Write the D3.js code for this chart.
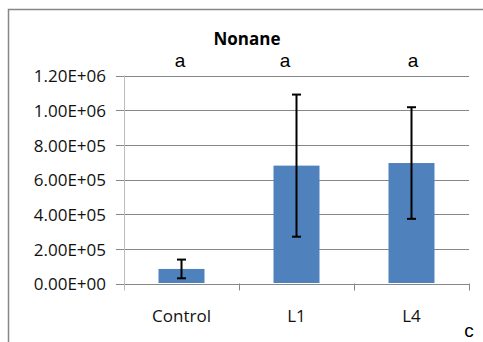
<!DOCTYPE html>
<html>
<head>
<meta charset="utf-8">
<script src="https://cdn.jsdelivr.net/npm/d3@7"></script>
<style>
  html, body { margin: 0; padding: 0; background: #fff; }
  svg { display: block; }
</style>
</head>
<body>
<svg id="chart" width="483" height="342"></svg>
<script>
// Nonane emission by line (mean ± error)
const categories = ["Control", "L1", "L4"];
const means = [84000, 680000, 695000];
const errors = [54000, 410000, 322000];
const letters = ["a", "a", "a"];
const letterX = [180, 285, 413];
const yTicks = [0, 200000, 400000, 600000, 800000, 1000000, 1200000];
const title = "Nonane";
const panelTag = "c";

const svg = d3.select("#chart");
const W = 483, H = 342;
const plot = { left: 124, right: 469, top: 75.5, bottom: 283.5 };
const labelFont = "'Open Sans', Lato, sans-serif";

const x = d3.scaleBand()
  .domain(categories)
  .range([plot.left, plot.right])
  .paddingInner(0.6)
  .paddingOuter(0.3);

const y = d3.scaleLinear()
  .domain([0, 1200000])
  .range([plot.bottom, plot.top]);

// Excel-style scientific labels: 1.20E+06
function sci(v) {
  if (v === 0) return "0.00E+00";
  const s = d3.format(".2e")(v);
  const [m, e] = s.split("e");
  const sign = e[0] === "-" ? "-" : "+";
  const digits = e.replace(/[+-]/, "").padStart(2, "0");
  return m + "E" + sign + digits;
}

// chart frame
svg.append("path")
  .attr("d", `M8.5,${H + 5} V9.5 H${W + 5}`)
  .attr("fill", "none")
  .attr("stroke", "#868686")
  .attr("stroke-width", 1.5);

// gridlines
svg.append("g")
  .selectAll("line")
  .data(yTicks)
  .join("line")
  .attr("x1", plot.left - 8)
  .attr("x2", plot.right)
  .attr("y1", d => Math.round(y(d)) + 0.5)
  .attr("y2", d => Math.round(y(d)) + 0.5)
  .attr("stroke", "#878787")
  .attr("stroke-width", 1);

// y axis line
svg.append("line")
  .attr("x1", plot.left + 0.5).attr("x2", plot.left + 0.5)
  .attr("y1", y(1200000)).attr("y2", plot.bottom + 7)
  .attr("stroke", "#bdbdbd")
  .attr("stroke-width", 1);

// y tick labels
svg.append("g")
  .selectAll("text")
  .data(yTicks)
  .join("text")
  .attr("x", 106)
  .attr("y", d => y(d))
  .attr("dy", "0.4em")
  .attr("text-anchor", "end")
  .attr("font-family", labelFont)
  .attr("font-size", 17)
  .attr("fill", "#111")
  .text(sci);

// x category boundary ticks
const bounds = [plot.left, ...categories.slice(1).map(c => x(c) - x.step() * x.paddingInner() / 2), plot.right];
svg.append("g")
  .selectAll("line")
  .data(bounds.slice(1))
  .join("line")
  .attr("x1", d => Math.round(d) + 0.5)
  .attr("x2", d => Math.round(d) + 0.5)
  .attr("y1", plot.bottom)
  .attr("y2", plot.bottom + 7)
  .attr("stroke", "#878787");

// bars
svg.append("g")
  .selectAll("rect")
  .data(categories)
  .join("rect")
  .attr("x", d => x(d))
  .attr("width", x.bandwidth())
  .attr("y", (d, i) => y(means[i]))
  .attr("height", (d, i) => plot.bottom - 0.5 - y(means[i]))
  .attr("fill", "#4f81bd");

// error bars
const eb = svg.append("g").attr("stroke", "#000").attr("stroke-width", 2);
categories.forEach((c, i) => {
  const cx = x(c) + x.bandwidth() / 2;
  const top = y(means[i] + errors[i]);
  const bot = y(means[i] - errors[i]);
  eb.append("line").attr("x1", cx).attr("x2", cx).attr("y1", top).attr("y2", bot);
  eb.append("line").attr("x1", cx - 4.5).attr("x2", cx + 4.5).attr("y1", top).attr("y2", top);
  eb.append("line").attr("x1", cx - 4.5).attr("x2", cx + 4.5).attr("y1", bot).attr("y2", bot);
});

// category labels
svg.append("g")
  .selectAll("text")
  .data(categories)
  .join("text")
  .attr("x", d => x(d) + x.bandwidth() / 2)
  .attr("y", 322)
  .attr("text-anchor", "middle")
  .attr("font-family", labelFont)
  .attr("font-size", 17)
  .attr("fill", "#111")
  .text(d => d);

// title
svg.append("text")
  .attr("x", 247)
  .attr("y", 44.5)
  .attr("text-anchor", "middle")
  .attr("font-family", labelFont)
  .attr("font-weight", "bold")
  .attr("font-size", 17)
  .attr("fill", "#000")
  .text(title);

// significance letters
svg.append("g")
  .selectAll("text")
  .data(letters)
  .join("text")
  .attr("x", (d, i) => letterX[i])
  .attr("y", 67)
  .attr("text-anchor", "middle")
  .attr("font-family", "'Liberation Sans', Arial, sans-serif")
  .attr("font-size", 19)
  .attr("fill", "#000")
  .text(d => d);

// panel tag
svg.append("text")
  .attr("x", 469)
  .attr("y", 337)
  .attr("text-anchor", "middle")
  .attr("font-family", "'Liberation Sans', Arial, sans-serif")
  .attr("font-size", 19)
  .attr("fill", "#000")
  .text(panelTag);
</script>
</body>
</html>
